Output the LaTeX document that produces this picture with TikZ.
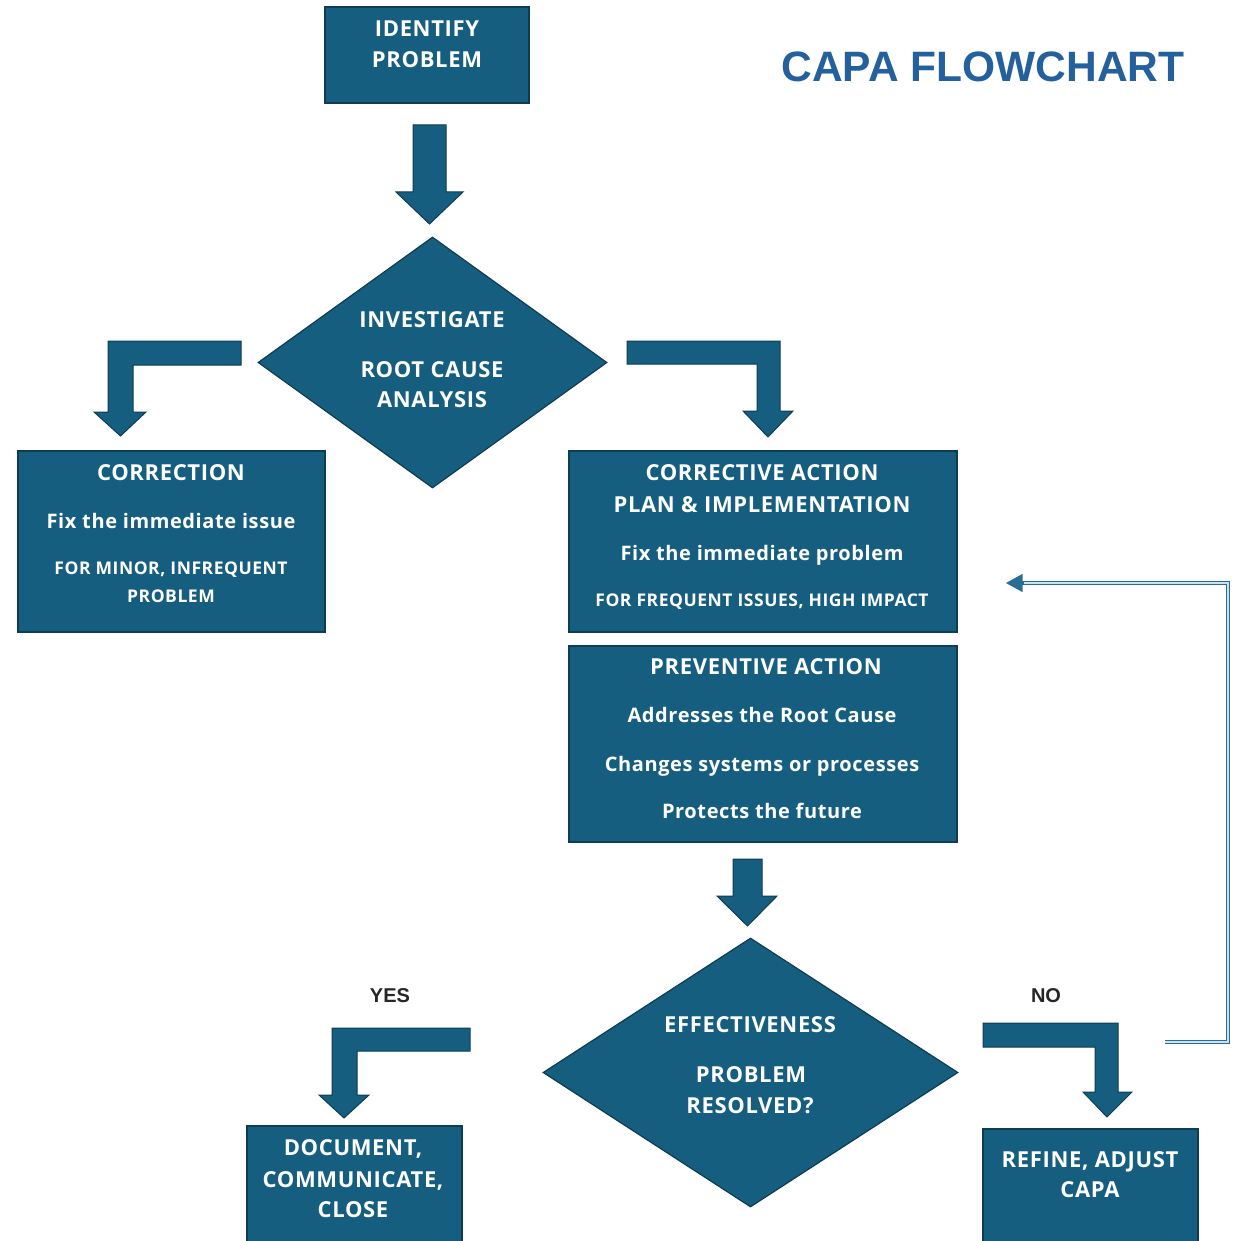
\documentclass[tikz,border=0pt]{standalone}
\usepackage{fontspec}
\usetikzlibrary{shapes.geometric,arrows.meta,calc}
\newfontfamily\boxfont{Open Sans}[LetterSpace=3]
\newfontfamily\titlefont{Liberation Sans}
\definecolor{capablue}{RGB}{22,94,127}
\definecolor{capaedge}{RGB}{14,60,82}
\definecolor{titleblue}{RGB}{36,96,156}
\definecolor{loopblue}{RGB}{40,110,150}
\definecolor{looplight}{RGB}{205,224,236}
\begin{document}
\begin{tikzpicture}[x=1pt,y=-1pt,
  box/.style={draw=capaedge,line width=1.2pt,fill=capablue,rectangle,inner sep=0pt},
  dia/.style={draw=capaedge,line width=1.2pt,fill=capablue,diamond,inner sep=0pt},
  blockarrow/.style={draw=capaedge,line width=1pt,fill=capablue,line join=miter},
  txt/.style={text=white,inner sep=0pt,text depth=0pt,anchor=center},
  hd/.style={txt,font=\boxfont\bfseries\fontsize{22}{26}\selectfont,text height=15.5pt},
  sub/.style={txt,font=\boxfont\bfseries\fontsize{20}{24}\selectfont,text height=14.5pt},
  sm/.style={txt,font=\boxfont\bfseries\fontsize{17.5}{21}\selectfont,text height=12.5pt},
  answer/.style={txt,text=black!85,font=\titlefont\bfseries\fontsize{20}{24}\selectfont,text height=14.3pt},
  loopout/.style={draw=loopblue,line width=4.6pt},
  loopin/.style={draw=looplight,line width=1.8pt}
]
\useasboundingbox (0,0) rectangle (1232,1241);
\clip (0,0) rectangle (1232,1241);

% ---- title ----
\node[inner sep=0pt,text=titleblue,font=\titlefont\bfseries\fontsize{42.5}{50}\selectfont,
      text height=30pt,text depth=0pt] (title) at (983,67) {CAPA FLOWCHART};

% ---- boxes and decisions ----
\node[box,minimum width=204pt,minimum height=96pt] (idb) at (427,55) {};
\node[dia,minimum width=349pt,minimum height=251pt] (inv) at (432.5,362.5) {};
\node[box,minimum width=307pt,minimum height=181pt] (corr) at (171.5,541.5) {};
\node[box,minimum width=388pt,minimum height=181pt] (cap) at (763,541.5) {};
\node[box,minimum width=388pt,minimum height=196pt] (prev) at (763,744) {};
\node[dia,minimum width=415pt,minimum height=269pt] (eff) at (750.5,1072.5) {};
\node[box,minimum width=215pt,minimum height=130pt] (doc) at (354.5,1191) {};
\node[box,minimum width=215pt,minimum height=130pt] (ref) at (1090.5,1194) {};

% ---- texts ----
\node[hd] (idb-a) at (427,29) {IDENTIFY};
\node[hd] (idb-b) at (427,60) {PROBLEM};

\node[hd] (inv-a) at (432,320) {INVESTIGATE};
\node[hd] (inv-b) at (432,370) {ROOT CAUSE};
\node[hd] (inv-c) at (432,400) {ANALYSIS};

\node[hd]  (corr-a) at (171,473) {CORRECTION};
\node[sub] (corr-b) at (171,521) {Fix the immediate issue};
\node[sm]  (corr-c) at (171,568) {FOR MINOR, INFREQUENT};
\node[sm]  (corr-d) at (171,596) {PROBLEM};

\node[hd]  (cap-a) at (762,473) {CORRECTIVE ACTION};
\node[hd]  (cap-b) at (762,505) {PLAN \& IMPLEMENTATION};
\node[sub] (cap-c) at (762,553) {Fix the immediate problem};
\node[sm]  (cap-d) at (762,600) {FOR FREQUENT ISSUES, HIGH IMPACT};

\node[hd]  (prev-a) at (766,667) {PREVENTIVE ACTION};
\node[sub] (prev-b) at (762,715) {Addresses the Root Cause};
\node[sub] (prev-c) at (762,764) {Changes systems or processes};
\node[sub] (prev-d) at (762,811) {Protects the future};

\node[hd] (eff-a) at (750,1025) {EFFECTIVENESS};
\node[hd] (eff-b) at (751,1075) {PROBLEM};
\node[hd] (eff-c) at (750,1106) {RESOLVED?};

\node[hd] (doc-a) at (353,1148) {DOCUMENT,};
\node[hd] (doc-b) at (353,1180) {COMMUNICATE,};
\node[hd] (doc-c) at (353,1210) {CLOSE};

\node[hd] (ref-a) at (1090,1160) {REFINE, ADJUST};
\node[hd] (ref-b) at (1090,1190) {CAPA};

\node[answer] (yes) at (390,995) {YES};
\node[answer] (no) at (1046,995) {NO};

% ---- block arrows ----
% identify -> investigate
\path[blockarrow] (413,125) -- (446,125) -- (446,192) -- (463,192) -- (429.5,224)
  -- (396,192) -- (413,192) -- cycle;
% investigate -> correction
\path[blockarrow] (241,341) -- (108,341) -- (108,412) -- (94,412) -- (120.5,436)
  -- (146,412) -- (133,412) -- (133,365) -- (241,365) -- cycle;
% investigate -> corrective action
\path[blockarrow] (627,341) -- (780,341) -- (780,411) -- (793,411) -- (768,437)
  -- (743,411) -- (757,411) -- (757,364) -- (627,364) -- cycle;
% preventive action -> effectiveness
\path[blockarrow] (733,859) -- (762,859) -- (762,896) -- (777,896) -- (747.5,926)
  -- (717,896) -- (733,896) -- cycle;
% effectiveness -> document (yes)
\path[blockarrow] (470,1028) -- (332,1028) -- (332,1095) -- (319,1095) -- (344,1118)
  -- (369,1095) -- (357,1095) -- (357,1051) -- (470,1051) -- cycle;
% effectiveness -> refine (no)
\path[blockarrow] (983,1023) -- (1118,1023) -- (1118,1092) -- (1132,1092) -- (1107,1117)
  -- (1083,1092) -- (1095,1092) -- (1095,1047) -- (983,1047) -- cycle;

% ---- feedback loop back to the corrective action ----
\coordinate (fbstart) at (1165,1042);
\coordinate (fbend) at ($(cap.east)+(48,41.5)$);
\draw[loopout,-{Triangle[length=17pt,width=17pt]}] (fbstart) -- ++(63,0) |- (fbend);
\draw[loopin,shorten >=18pt] (fbstart) -- ++(63,0) |- (fbend);
\end{tikzpicture}
\end{document}
